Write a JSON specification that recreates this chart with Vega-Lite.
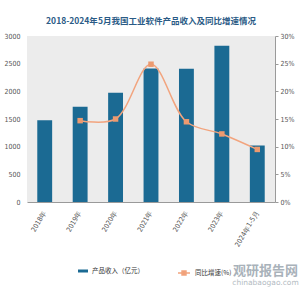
{
  "$schema": "https://vega.github.io/schema/vega-lite/v6.json",
  "width": 248,
  "height": 166,
  "autosize": {"type": "none"},
  "padding": {"left": 27, "top": 36, "right": 25, "bottom": 98},
  "background": "#ffffff",
  "title": {
    "text": "2018-2024年5月我国工业软件产品收入及同比增速情况",
    "anchor": "middle",
    "offset": 7,
    "font": "Noto Sans CJK SC",
    "fontSize": 8.5,
    "fontWeight": "bold",
    "color": "#2b5b86"
  },
  "config": {
    "view": {"fill": "#ececec", "stroke": null},
    "axis": {
      "labelFont": "Liberation Sans Narrow, DejaVu Sans Condensed, sans-serif",
      "labelFontSize": 7,
      "labelColor": "#555555",
      "labelOverlap": false,
      "grid": false
    },
    "legend": {
      "labelFont": "Noto Sans CJK SC",
      "labelFontSize": 6.5,
      "labelColor": "#333333",
      "title": null
    }
  },
  "data": {
    "values": [
      {"period": "2018年", "revenue": 1477, "growth": null},
      {"period": "2019年", "revenue": 1720, "growth": 0.147},
      {"period": "2020年", "revenue": 1974, "growth": 0.15},
      {"period": "2021年", "revenue": 2414, "growth": 0.249},
      {"period": "2022年", "revenue": 2407, "growth": 0.145},
      {"period": "2023年", "revenue": 2824, "growth": 0.123},
      {"period": "2024年1-5月", "revenue": 1021, "growth": 0.095}
    ]
  },
  "encoding": {
    "x": {
      "field": "period",
      "type": "ordinal",
      "sort": null,
      "scale": {"paddingInner": 0.58, "paddingOuter": 0.29},
      "axis": {
        "labelAngle": -60,
        "labelAlign": "right",
        "labelBaseline": "middle",
        "labelPadding": 9,
        "ticks": false,
        "domainColor": "#9a9a9a",
        "title": "观研报告网",
        "titleX": 238,
        "titleY": 68,
        "titleAlign": "center",
        "titleBaseline": "middle",
        "titleFont": "Noto Sans CJK SC",
        "titleFontSize": 13,
        "titleFontWeight": "bold",
        "titleColor": "#a9b2ba"
      }
    }
  },
  "layer": [
    {
      "mark": {"type": "bar", "color": "#1b6a93"},
      "encoding": {
        "y": {
          "field": "revenue",
          "type": "quantitative",
          "scale": {"domain": [0, 3000]},
          "axis": {
            "values": [0, 500, 1000, 1500, 2000, 2500, 3000],
            "format": "d",
            "domain": false,
            "ticks": false,
            "labelPadding": 7,
            "title": null
          }
        },
        "color": {
          "datum": "产品收入（亿元）",
          "scale": {"range": ["#1b6a93"]},
          "legend": {
            "orient": "none",
            "legendX": 51,
            "legendY": 230,
            "symbolType": "M-1,-0.3H1V0.3H-1Z",
            "symbolSize": 100,
            "symbolStrokeWidth": 0
          }
        }
      }
    },
    {
      "encoding": {
        "y": {
          "field": "growth",
          "type": "quantitative",
          "scale": {"domain": [0, 0.3]},
          "axis": {
            "orient": "right",
            "values": [0, 0.05, 0.1, 0.15, 0.2, 0.25, 0.3],
            "format": ".0%",
            "domainColor": "#9a9a9a",
            "tickColor": "#9a9a9a",
            "tickSize": 3,
            "labelPadding": 2,
            "title": "chinabaogao.com",
            "titleAngle": 0,
            "titleX": -10,
            "titleY": 246,
            "titleAlign": "center",
            "titleBaseline": "middle",
            "titleFont": "DejaVu Sans",
            "titleFontSize": 7.5,
            "titleFontWeight": "normal",
            "titleColor": "#b3bbc2"
          }
        }
      },
      "layer": [
        {
          "mark": {"type": "line", "interpolate": "catmull-rom", "strokeWidth": 1.5},
          "encoding": {
            "stroke": {
              "datum": "同比增速(%)",
              "scale": {"range": ["#f2a47e"]},
              "legend": {
                "orient": "none",
                "legendX": 150,
                "legendY": 230,
                "symbolType": "M-1,0H1M-0.33,-0.33H0.33V0.33H-0.33Z",
                "symbolSize": 144,
                "symbolFillColor": "#ee9a70",
                "symbolStrokeWidth": 1.5
              }
            }
          }
        },
        {
          "mark": {"type": "point", "shape": "square", "filled": true, "size": 30, "color": "#ec9a70", "opacity": 1}
        }
      ]
    }
  ],
  "resolve": {"scale": {"y": "independent"}}
}
